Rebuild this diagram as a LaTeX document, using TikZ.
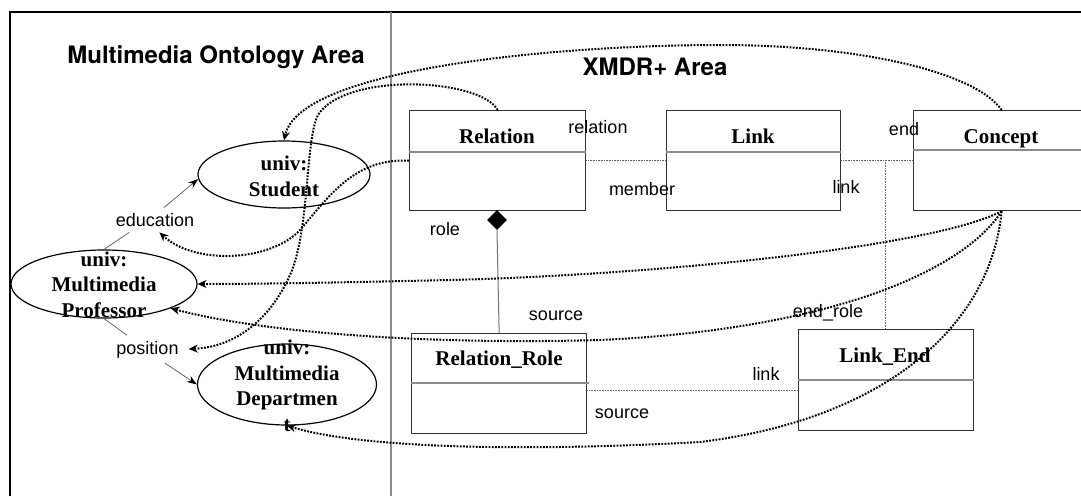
\documentclass[tikz,border=0pt]{standalone}
\usepackage{fontspec}
\setmainfont{Liberation Serif}
\newfontfamily\labelfont{Liberation Sans}
\newfontfamily\headfont{TeX Gyre Heros}
\usetikzlibrary{arrows.meta,shapes.geometric}

\begin{document}
\begin{tikzpicture}[x=1pt,y=-1pt,
  classbox/.style={draw=black!80, line width=1.3pt, inner sep=0pt, anchor=north west},
  sepline/.style={draw=black!45, line width=1.1pt},
  cname/.style={font=\fontsize{21}{25}\selectfont\bfseries, anchor=base, inner sep=0pt},
  onto/.style={ellipse, draw=black, line width=1.2pt, inner sep=0pt},
  etxt/.style={font=\fontsize{21}{25.5}\selectfont\bfseries, align=center, anchor=base, inner sep=0pt},
  lbl/.style={font=\labelfont\fontsize{18}{20}\selectfont, anchor=base, inner sep=2pt},
  head/.style={font=\headfont\bfseries\fontsize{24}{28}\selectfont, anchor=base, inner sep=0pt},
  assoc/.style={draw=black!60, line width=0.8pt, dash pattern=on 1pt off 0.6pt},
  mapcurve/.style={line width=2pt, dash pattern=on 1.8pt off 1.4pt,
                   -{Stealth[length=9pt,width=8pt]}},
  thinarrow/.style={draw=black!60, line width=0.8pt, -{Stealth[length=10pt,width=7pt,black]}},
  thinline/.style={draw=black!60, line width=0.8pt}]

\useasboundingbox (0,0) rectangle (1081,496);
\clip (0,0) rectangle (1081,496);

% frame and area divider
\draw[line width=2pt] (10,496) -- (10,12) -- (1081,12);
\draw[draw=black!45, line width=1.2pt] (391,12) -- (391,496);

% area headings
\node[head] (ontohead) at (216,63) {Multimedia Ontology Area};
\node[head] (xmdrhead) at (655,75) {XMDR+ Area};

% ontology classes (text anchored at the baseline of its last line)
\node[onto, minimum width=172pt, minimum height=67pt] (stu) at (284,174.5) {};
\node[etxt] (stutxt) at (284,196) {univ:\\Student};
\node[onto, minimum width=186pt, minimum height=68pt] (prof) at (104,284) {};
\node[etxt] (proftxt) at (104,317) {univ:\\Multimedia\\Professor};
\node[onto, minimum width=179pt, minimum height=81pt] (dept) at (287,384.5) {};
\node[etxt] (depttxt) at (287,431) {univ:\\Multimedia\\Departmen\\t};

% ontology properties
\node[lbl] (edu) at (155,226) {education};
\node[lbl] (pos) at (147.5,354) {position};

\draw[thinline, shorten >=7pt] (prof.north) -- (edu.204);
\draw[thinarrow, shorten <=5pt] (edu.60) -- (stu.183);
\draw[thinline, shorten >=6pt] (prof.south) -- (pos.146);
\draw[thinarrow, shorten <=6pt] (pos.-40) -- (dept.west);

% XMDR+ classes
\node[classbox, minimum width=176pt, minimum height=100pt] (rel) at (409,110) {};
\draw[sepline] ([yshift=-42pt]rel.north west) -- ([yshift=-42pt]rel.north east);
\node[cname] (reltxt) at (497,143) {Relation};

\node[classbox, minimum width=174pt, minimum height=100pt] (lnk) at (666,110) {};
\draw[sepline] ([yshift=-42pt]lnk.north west) -- ([yshift=-42pt]lnk.north east);
\node[cname] (lnktxt) at (753,143) {Link};

\node[classbox, minimum width=176pt, minimum height=100pt] (con) at (913,110) {};
\draw[sepline] ([yshift=-40pt]con.north west) -- ([yshift=-40pt]con.north east);
\node[cname] (contxt) at (1001,143) {Concept};

\node[classbox, minimum width=175pt, minimum height=100pt] (rr) at (411,333) {};
\draw[sepline] ([yshift=-50pt]rr.north west) -- ([xshift=2pt,yshift=-50pt]rr.north east);
\node[cname] (rrtxt) at (499,365) {Relation\_Role};

\node[classbox, minimum width=175pt, minimum height=101pt] (le) at (798,329) {};
\draw[sepline] ([yshift=-51pt]le.north west) -- ([yshift=-51pt]le.north east);
\node[cname] (letxt) at (885,362) {Link\_End};

% associations between XMDR+ classes
\node[diamond, fill=black, inner sep=0pt, minimum width=20pt, minimum height=20pt] (dia) at (497,220) {};
\draw[draw=black!55, line width=1pt] (dia.south) -- (rr.north);
\draw[assoc] (rel.east) -- (lnk.west);
\draw[assoc] (lnk.east) -- (con.west);
\coordinate (jn) at (885,160);
\draw[assoc] (jn) -- (jn |- le.north);
\draw[assoc] ([yshift=-7pt]rr.east) -- ([yshift=-10.5pt]le.west);

% role names
\node[lbl] (lrelation) at (598,133) {relation};
\node[lbl] (lmember) at (642,195) {member};
\node[lbl] (llink1) at (846,193) {link};
\node[lbl] (lend) at (904,135) {end};
\node[lbl] (lrole) at (445,235) {role};
\node[lbl] (lsource1) at (556,320) {source};
\node[lbl] (lsource2) at (622,418) {source};
\node[lbl] (llink2) at (766,380) {link};
\node[lbl] (lendrole) at (828,317) {end\_role};

% mappings from XMDR+ to the ontology
\draw[mapcurve] (con.north) .. controls (975,72) and (860,45) .. (720,45)
   .. controls (560,45) and (300,68) .. (stu.north);
\draw[mapcurve, shorten >=8pt] (rel.north) .. controls (480,78) and (345,72) .. (318,115)
   .. controls (305,140) and (310,230) .. (290,275)
   .. controls (270,320) and (235,347) .. (pos.east);
\draw[mapcurve, shorten >=6pt] (rel.west) .. controls (355,158) and (330,195) .. (300,230)
   .. controls (270,262) and (195,265) .. (edu.south);
\draw[mapcurve] (con.south) .. controls (930,248) and (650,275) .. (450,280)
   .. controls (320,283) and (250,284) .. (prof.east);
\draw[mapcurve] (con.south) .. controls (960,275) and (820,330) .. (600,340)
   .. controls (420,345) and (260,332) .. (prof.-20);
\draw[mapcurve] (con.south) .. controls (990,330) and (880,420) .. (700,442)
   .. controls (520,452) and (360,448) .. (dept.south);
\end{tikzpicture}
\end{document}
